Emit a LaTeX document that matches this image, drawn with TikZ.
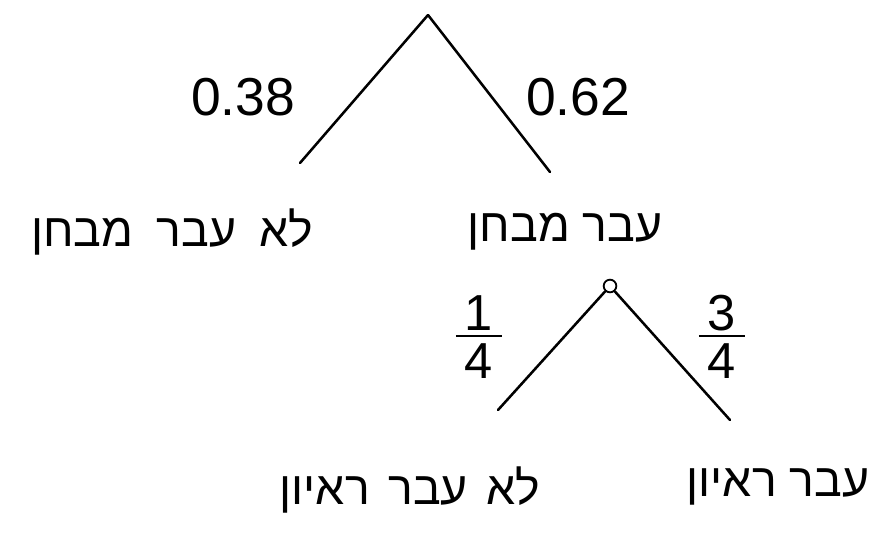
\documentclass[tikz,border=0pt]{standalone}
\usepackage{fontspec}
\setmainfont{Liberation Sans}
\newfontfamily\hebfont[Script=Hebrew]{Liberation Sans}
\TeXXeTstate=1
\newcommand{\myfrac}[2]{\vbox{\hbox to 33pt{\hfil#1\hfil}\kern3pt\hrule height 1.4pt\kern5pt\hbox to 33pt{\hfil#2\hfil}}}
\begin{document}
\begin{tikzpicture}[x=0.025cm,y=-0.025cm,
  branch/.style={line width=1.8pt,line cap=round},
  lbl/.style={font=\fontsize{38}{44}\selectfont,inner sep=0pt},
  heb/.style={font=\hebfont\fontsize{33}{38}\selectfont,inner sep=0pt},
  frac/.style={font=\fontsize{36}{40}\selectfont,inner sep=0pt}]
\useasboundingbox (0,0) rectangle (880,539);
% first split
\coordinate (r) at (428,15);
\coordinate (l1) at (300,163);
\coordinate (r1) at (550,172);
\draw[branch] (r) -- (l1);
\draw[branch] (r) -- (r1);
\node[lbl] (p38) at (243,97) {0.38};
\node[lbl] (p62) at (578,97) {0.62};
\node[heb] (nofail) at (172,232) {\beginR לא\hspace{0.5em}עבר\hspace{0.5em}מבחן\endR};
\node[heb] (pass) at (565,232) {\beginR עבר מבחן\endR};
% second split
\node[draw,circle,line width=1.3pt,minimum size=9pt,inner sep=0pt] (s) at (610,286) {};
\coordinate (l2) at (498,410);
\coordinate (r2) at (730,420);
\draw[branch] (s) -- (l2);
\draw[branch] (s) -- (r2);
\node[frac] (q1) at (479,337) {\myfrac{1}{4}};
\node[frac] (q3) at (722,337) {\myfrac{3}{4}};
\node[heb] (nointerview) at (410,490) {\beginR לא\hspace{0.4em}עבר\hspace{0.4em}ראיון\endR};
\node[heb] (interview) at (778,487) {\beginR עבר ראיון\endR};
\end{tikzpicture}
\end{document}
